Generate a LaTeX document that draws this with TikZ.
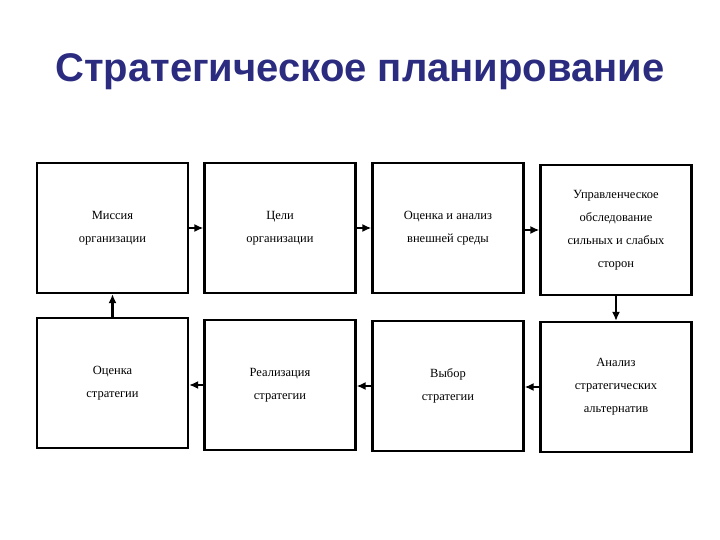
\documentclass[tikz,border=0pt]{standalone}
\usepackage{fontspec}
\setmainfont{Liberation Serif}
\newfontfamily\titlefont{Liberation Sans}
\usetikzlibrary{arrows.meta}
\definecolor{titleblue}{HTML}{2B2B80}
\begin{document}
\begin{tikzpicture}[x=1pt,y=1pt,
  box/.style={draw,line width=2.2pt,minimum width=151pt,minimum height=130pt,inner sep=0pt,
    align=center,font=\fontsize{12.5}{23}\selectfont},
  conn/.style={line width=2.2pt,-{Latex[length=9pt,width=8pt]}}]
\useasboundingbox (0,0) rectangle (720,-540);
\node[font=\titlefont\bfseries\fontsize{40}{44}\selectfont,text=titleblue] (title) at (360,-72) {Стратегическое планирование};
\node[box] (b1) at (112.5,-228) {Миссия\\организации};
\node[box] (b2) at (280,-228) {Цели\\организации};
\node[box] (b3) at (448,-228) {Оценка и анализ\\внешней среды};
\node[box] (b4) at (616,-230) {Управленческое\\обследование\\сильных и слабых\\сторон};
\node[box] (b5) at (112.5,-383) {Оценка\\стратегии};
\node[box] (b6) at (280,-385) {Реализация\\стратегии};
\node[box] (b7) at (448,-386) {Выбор\\стратегии};
\node[box] (b8) at (616,-387) {Анализ\\стратегических\\альтернатив};
\draw[conn] (b1) -- (b2);
\draw[conn] (b2) -- (b3);
\draw[conn] (b3.east |- b4) -- (b4);
\draw[conn] (b4) -- (b8);
\draw[conn] (b8) -- (b8 -| b7.east);
\draw[conn] (b7) -- (b7 -| b6.east);
\draw[conn] (b6) -- (b6 -| b5.east);
\draw[conn] (b5.north -| b1) -- (b1);
\end{tikzpicture}
\end{document}
